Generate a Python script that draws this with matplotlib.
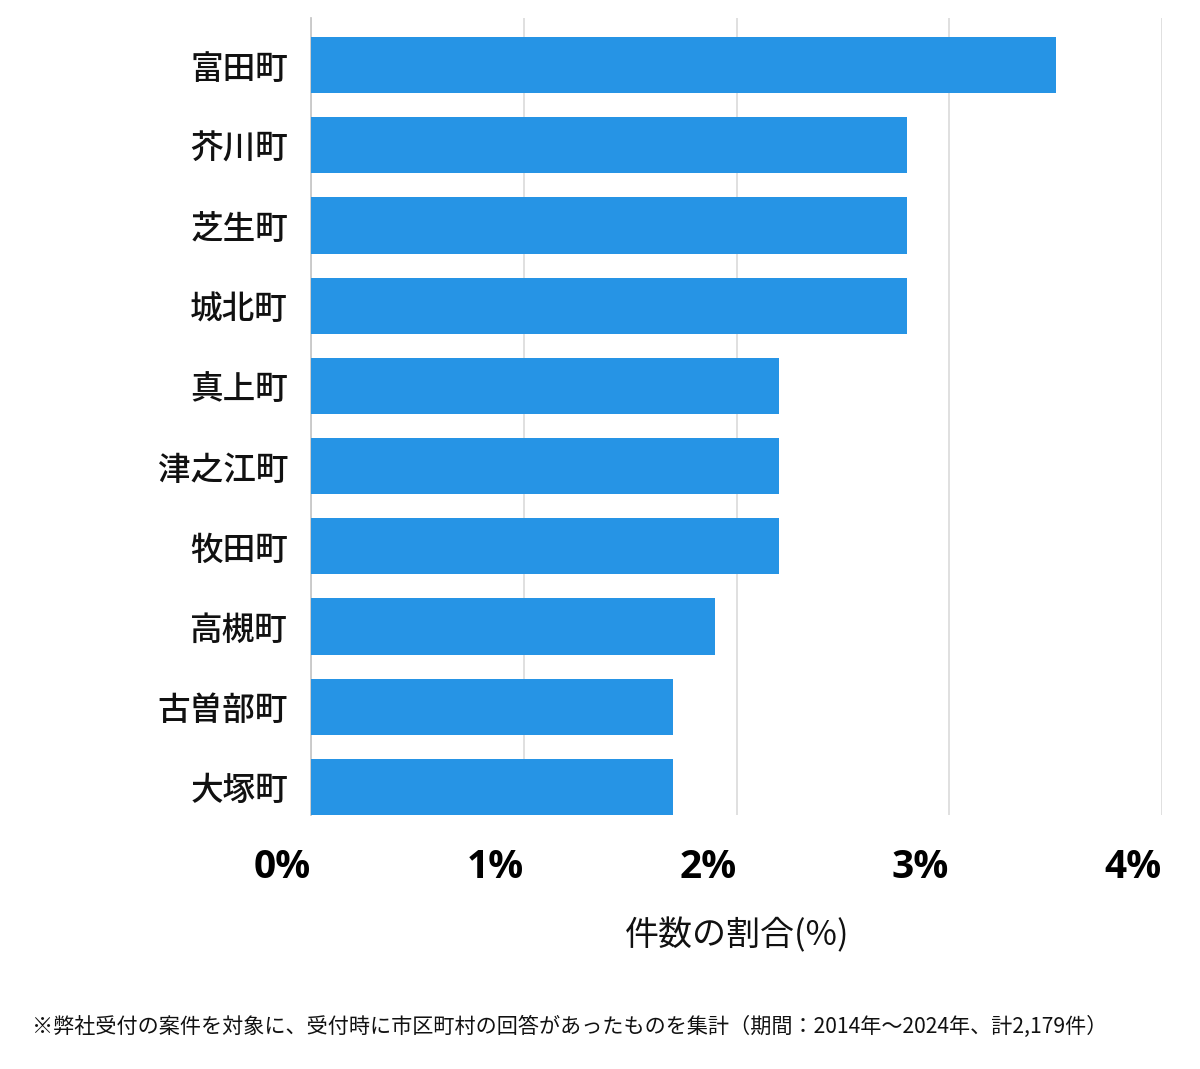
import matplotlib.pyplot as plt
from matplotlib.ticker import FixedLocator

plt.rcParams['font.family'] = ['Noto Sans CJK JP', 'DejaVu Sans']

towns = ['富田町', '芥川町', '芝生町', '城北町', '真上町', '津之江町', '牧田町', '高槻町', '古曽部町', '大塚町']
shares = [3.50, 2.80, 2.80, 2.80, 2.20, 2.20, 2.20, 1.90, 1.70, 1.70]
xticks = [0, 1, 2, 3, 4]
xtick_labels = ['0%', '1%', '2%', '3%', '4%']

fig = plt.figure(figsize=(12, 10.69), dpi=100)
ax = fig.add_axes([311 / 1200, 1 - 815 / 1069, (1162 - 311) / 1200, (815 - 18) / 1069])

ypos = list(range(len(towns)))
ax.barh(ypos, shares, height=0.70, color='#2694E5', zorder=3)

ax.set_xlim(0, 4)
ax.set_ylim(9.35, -0.586)
ax.set_yticks(ypos)
ax.set_yticklabels(towns, fontsize=23.5, fontweight='medium', color='#111111')
ax.tick_params(axis='y', length=0, pad=16.5)

ax.xaxis.set_major_locator(FixedLocator(xticks))
ax.set_xticklabels(xtick_labels, fontsize=28, fontweight='bold',
                   family=['Open Sans', 'DejaVu Sans'], ha='right')
ax.tick_params(axis='x', length=0, pad=24)

ax.grid(axis='x', color='#dddddd', linewidth=1.3, zorder=0)
for s in ['top', 'right', 'bottom']:
    ax.spines[s].set_visible(False)
ax.spines['left'].set_color('#c8c8c8')
ax.spines['left'].set_linewidth(1.3)

fig.text(737 / 1200, 1 - 936 / 1069, '件数の割合(%)', ha='center', va='center',
         fontsize=24.5, color='#111111')
fig.text(32 / 1200, 1 - 1027 / 1069,
         '※弊社受付の案件を対象に、受付時に市区町村の回答があったものを集計（期間：2014年〜2024年、計2,179件）',
         ha='left', va='center', fontsize=15.2, color='#111111')

fig.savefig('out.png', dpi=100)
